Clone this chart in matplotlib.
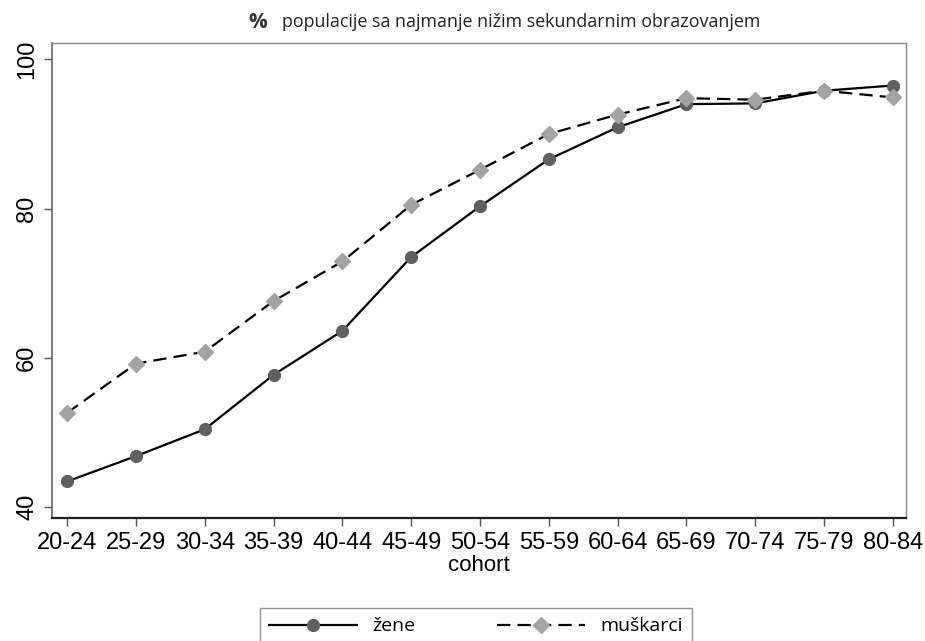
import numpy as np
from matplotlib import pyplot as plt

# podaci očitani sa grafika
cohorts = ['20-24', '25-29', '30-34', '35-39', '40-44', '45-49', '50-54',
           '55-59', '60-64', '65-69', '70-74', '75-79', '80-84']
zene = [43.4, 46.8, 50.4, 57.7, 63.6, 73.5, 80.3, 86.6, 90.9, 94.0, 94.1, 95.8, 96.5]
muskarci = [52.6, 59.2, 60.8, 67.6, 72.9, 80.5, 85.2, 90.0, 92.6, 94.8, 94.6, 95.8, 94.9]
yticks = [40, 60, 80, 100]

plt.rcParams['font.family'] = ['Liberation Sans', 'DejaVu Sans']

fig = plt.figure(figsize=(9.25, 6.41), dpi=100)
ax = fig.add_axes([52 / 925, 1 - 518 / 641, (906 - 52) / 925, (518 - 43) / 641])

x = np.arange(len(cohorts))
ax.plot(x, zene, color='black', lw=1.6, marker='o', ms=8.5,
        mfc='#606060', mec='#606060', label='žene', zorder=3)
ax.plot(x, muskarci, color='black', lw=1.6, ls=(0, (6, 3.2)), marker='D', ms=8,
        mfc='#a3a3a3', mec='#a3a3a3', label='muškarci', zorder=3)

ax.set_xlim(-0.22, 12.19)
ax.set_ylim(38.5, 102.2)
ax.set_xticks(x)
ax.set_xticklabels(cohorts, fontsize=17)
ax.set_yticks(yticks)
ax.set_yticklabels([str(v) for v in yticks], fontsize=17, rotation=90, va='center')
ax.tick_params(axis='both', direction='out', length=6, width=1, color='#555555', pad=4)
ax.set_xlabel('cohort', fontsize=16, labelpad=1)

for s in ['top', 'right']:
    ax.spines[s].set_color('#888888')
    ax.spines[s].set_linewidth(1)
ax.spines['left'].set_color('#666666')
ax.spines['left'].set_linewidth(1.2)
ax.spines['bottom'].set_color('#222222')
ax.spines['bottom'].set_linewidth(1.6)

# naslov
fig.text(248 / 925, 1 - 22 / 641, '%', fontsize=15, fontweight='bold',
         color='#333333', va='center', ha='left', family=['Open Sans', 'DejaVu Sans'])
fig.text(282 / 925, 1 - 22 / 641, 'populacije sa najmanje nižim sekundarnim obrazovanjem',
         fontsize=12.9, color='#222222', va='center', ha='left',
         family=['Open Sans', 'DejaVu Sans'])

leg = fig.legend(loc='upper center', bbox_to_anchor=(476 / 925, 1 - 598 / 641),
                 ncol=2, frameon=True, fancybox=False, handlelength=4.5,
                 columnspacing=4.2, borderpad=0.5, handletextpad=0.8,
                 prop={'family': ['Open Sans', 'DejaVu Sans'], 'size': 14})
leg.get_frame().set_edgecolor('#777777')
leg.get_frame().set_linewidth(1)

fig.savefig('out.png', dpi=100, facecolor='white')
